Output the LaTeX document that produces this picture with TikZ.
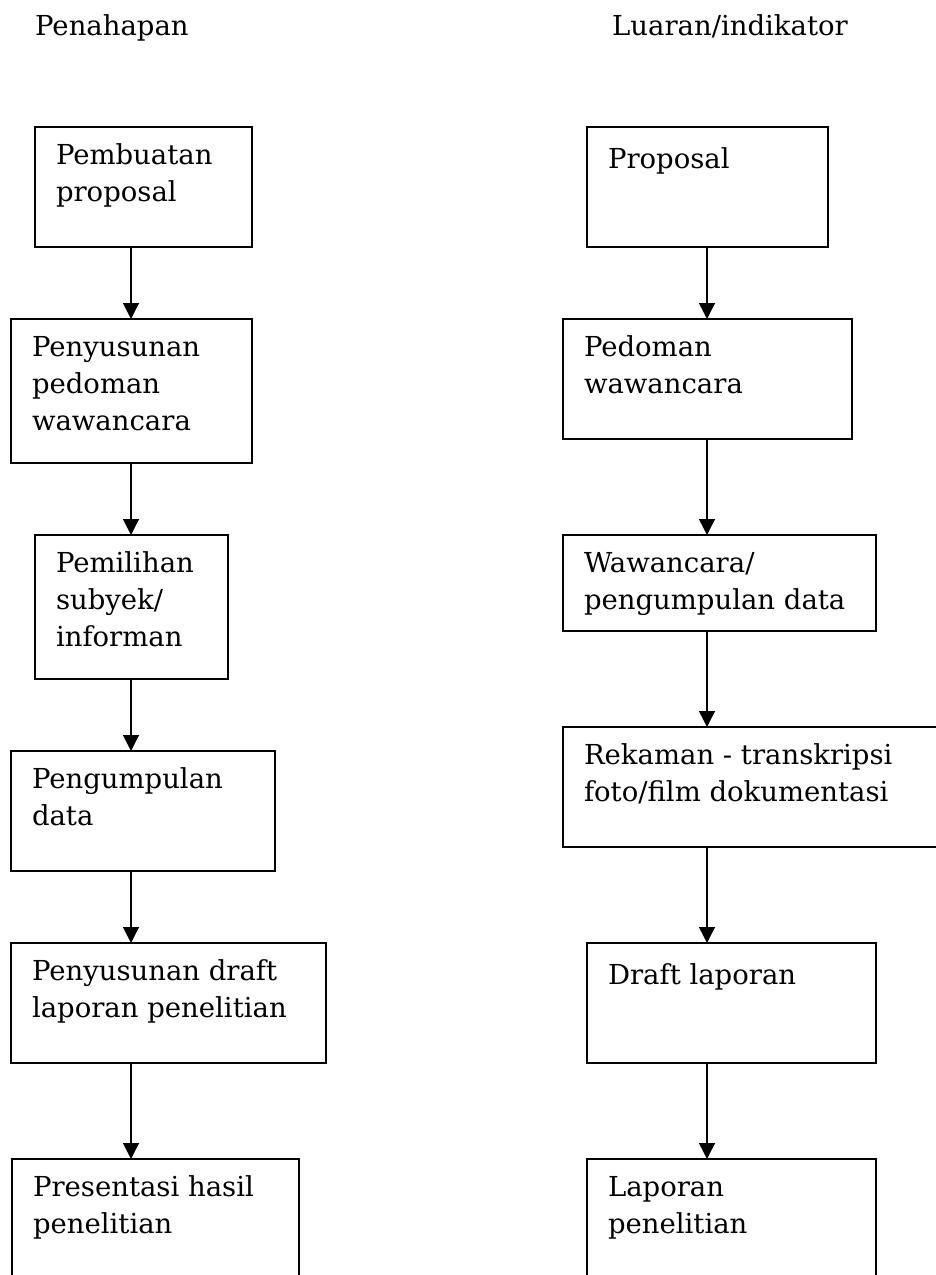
\documentclass[tikz,border=0pt]{standalone}
\usepackage{fontspec}
\setmainfont{DejaVu Serif}
\usetikzlibrary{arrows.meta}
\tikzset{
  box/.style={draw, line width=1.2pt, inner sep=0pt, outer sep=0pt, anchor=north west},
  lbl/.style={inner sep=0pt, outer sep=0pt, anchor=north west, align=left,
    font=\fontsize{27.5}{37}\selectfont, execute at begin node={\rule{0pt}{24pt}}},
  hdr/.style={inner sep=0pt, anchor=base west, font=\fontsize{27.5}{37}\selectfont},
  arr/.style={line width=1.4pt, -{Triangle[length=16pt,width=16pt]}}
}
\newcommand{\mybox}[6]{%
  \node[box, minimum width=#4pt-#2pt, minimum height=#5pt-#3pt] (#1) at (#2,#3) {};
  \node[lbl] (#1t) at (#2+21,#3+17) {#6};
}
\begin{document}
\begin{tikzpicture}[x=1pt,y=-1pt]
\useasboundingbox (0,0) rectangle (936,1275);
\node[hdr] (h1) at (35,35) {Penahapan};
\node[hdr] (h2) at (612,35) {Luaran/indikator};
\mybox{L1}{35}{127}{252}{247}{Pembuatan\\proposal}
\mybox{L2}{11}{319}{252}{463}{Penyusunan\\pedoman\\wawancara}
\mybox{L3}{35}{535}{228}{679}{Pemilihan\\subyek/\\informan}
\mybox{L4}{11}{751}{275}{871}{Pengumpulan\\data}
\mybox{L5}{11}{943}{326}{1063}{Penyusunan draft\\laporan penelitian}
\mybox{L6}{12}{1159}{299}{1400}{Presentasi hasil\\penelitian}
\mybox{R1}{587}{127}{828}{247}{Proposal}
\mybox{R2}{563}{319}{852}{439}{Pedoman\\wawancara}
\mybox{R3}{563}{535}{876}{631}{Wawancara/\\pengumpulan data}
\mybox{R4}{563}{727}{950}{847}{Rekaman - transkripsi\\foto/film dokumentasi}
\mybox{R5}{587}{943}{876}{1063}{Draft laporan}
\mybox{R6}{587}{1159}{876}{1400}{Laporan\\penelitian}
\coordinate (lx) at (131,0);
\coordinate (rx) at (707,0);
\foreach \a/\b in {L1/L2,L2/L3,L3/L4,L4/L5,L5/L6}
  \draw[arr] (\a.south -| lx) -- (\b.north -| lx);
\foreach \a/\b in {R1/R2,R2/R3,R3/R4,R4/R5,R5/R6}
  \draw[arr] (\a.south -| rx) -- (\b.north -| rx);
\end{tikzpicture}
\end{document}
